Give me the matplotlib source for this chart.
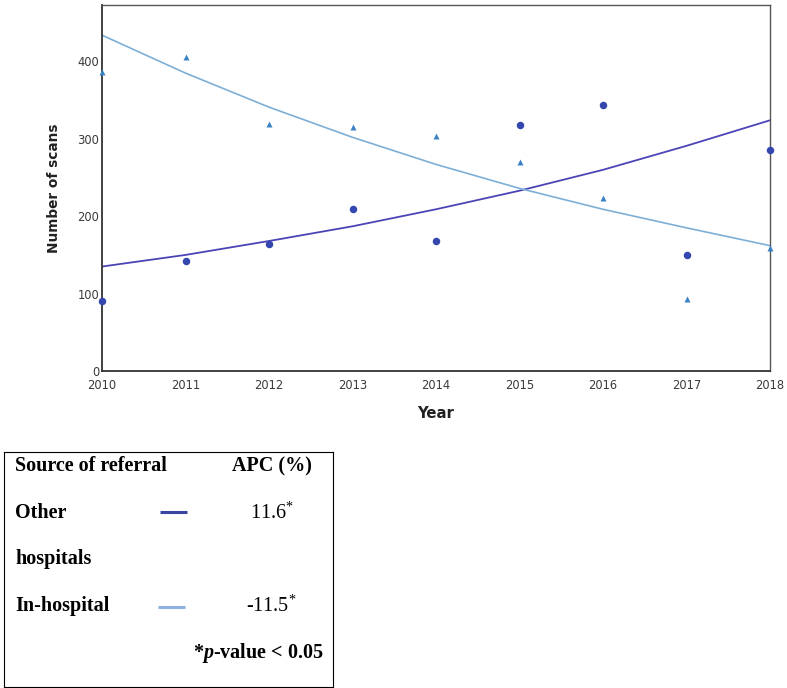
import matplotlib
matplotlib.use("Agg")
import matplotlib.pyplot as plt

plt.rcParams['mathtext.fontset'] = 'custom'
plt.rcParams['mathtext.rm'] = 'Liberation Serif'
plt.rcParams['mathtext.it'] = 'Liberation Serif:italic'
plt.rcParams['mathtext.bf'] = 'Liberation Serif:bold'
plt.rcParams['mathtext.bfit'] = 'Liberation Serif:italic:bold'

# ---- data ----
years = [2010, 2011, 2012, 2013, 2014, 2015, 2016, 2017, 2018]
other_obs = [90, 142, 164, 209, 168, 318, 344, 150, 286]
inhosp_obs = [387, 406, 319, 315, 304, 270, 223, 93, 159]
other_fit = [135, 150, 168, 187, 209, 233, 260, 291, 324]
inhosp_fit = [434, 385, 341, 302, 267, 236, 209, 185, 162]
yticks = [0, 100, 200, 300, 400]
legend_groups = ["Other", "In-hospital"]
apc_labels = ["11.6", "-11.5"]

c_other_line = "#4B44B6"
c_other_pt = "#3347AE"
c_in_line = "#7DAFD6"
c_in_pt = "#3B82C4"

fig = plt.figure(figsize=(7.87, 6.88), dpi=100)
W, H = 787, 688

ax = fig.add_axes([102 / W, 1 - 371 / H, (770 - 102) / W, (371 - 5) / H])
ax.plot(years, other_fit, color=c_other_line, lw=1.3, zorder=2)
ax.plot(years, inhosp_fit, color=c_in_line, lw=1.2, zorder=2)
ax.plot(years, other_obs, 'o', color=c_other_pt, ms=5.4, mec='none', zorder=3, clip_on=False)
ax.plot(years, inhosp_obs, '^', color=c_in_pt, ms=4.8, mec='none', zorder=3, clip_on=False)

ax.set_xlim(2010, 2018)
ax.set_ylim(0, 473)
ax.set_xticks(years)
ax.set_yticks(yticks)
ax.tick_params(axis='both', length=0, labelsize=8.3, colors='#3a3a3a', pad=6)
ax.tick_params(axis='y', pad=2)
for s in ['left', 'bottom']:
    ax.spines[s].set_color('#333333')
    ax.spines[s].set_linewidth(1.3)
for s in ['top', 'right']:
    ax.spines[s].set_color('#555555')
    ax.spines[s].set_linewidth(1.0)
ax.set_ylabel("Number of scans", fontsize=9.8, fontweight='bold', color='#222222', labelpad=12)
ax.set_xlabel("Year", fontsize=10.7, fontweight='bold', color='#222222', labelpad=9.5)

# ---- legend box ----
lg = fig.add_axes([4 / W, 1 - 687 / H, 329 / W, 235 / H])
lg.set_xlim(0, 329)
lg.set_ylim(235, 0)
lg.set_xticks([])
lg.set_yticks([])
for s in lg.spines.values():
    s.set_color('black')
    s.set_linewidth(0.8)

serif = 'Liberation Serif'
fs = 14.5
lg.text(11, 14, "Source of referral", family=serif, fontweight='bold', fontsize=fs, va='center', ha='left')
lg.text(268, 14, "APC (%)", family=serif, fontweight='bold', fontsize=fs, va='center', ha='center')
lg.text(11, 61, legend_groups[0], family=serif, fontweight='bold', fontsize=fs, va='center', ha='left')
lg.text(11, 107, "hospitals", family=serif, fontweight='bold', fontsize=fs, va='center', ha='left')
lg.text(11, 154, legend_groups[1], family=serif, fontweight='bold', fontsize=fs, va='center', ha='left')
lg.plot([156, 183], [60, 60], color="#3A46A2", lw=2.2, solid_capstyle='butt')
lg.plot([154, 181], [155, 155], color="#8FB1DD", lw=2.2, solid_capstyle='butt')
lg.text(268, 61, apc_labels[0] + "$^{*}$", family=serif, fontsize=fs, va='center', ha='center')
lg.text(267, 154, apc_labels[1] + "$^{*}$", family=serif, fontsize=fs, va='center', ha='center')
lg.text(320, 201, r"*$\mathbfit{p}$-value < 0.05", family=serif, fontweight='bold', fontsize=fs,
        va='center', ha='right')

fig.savefig("out.png", dpi=100)
